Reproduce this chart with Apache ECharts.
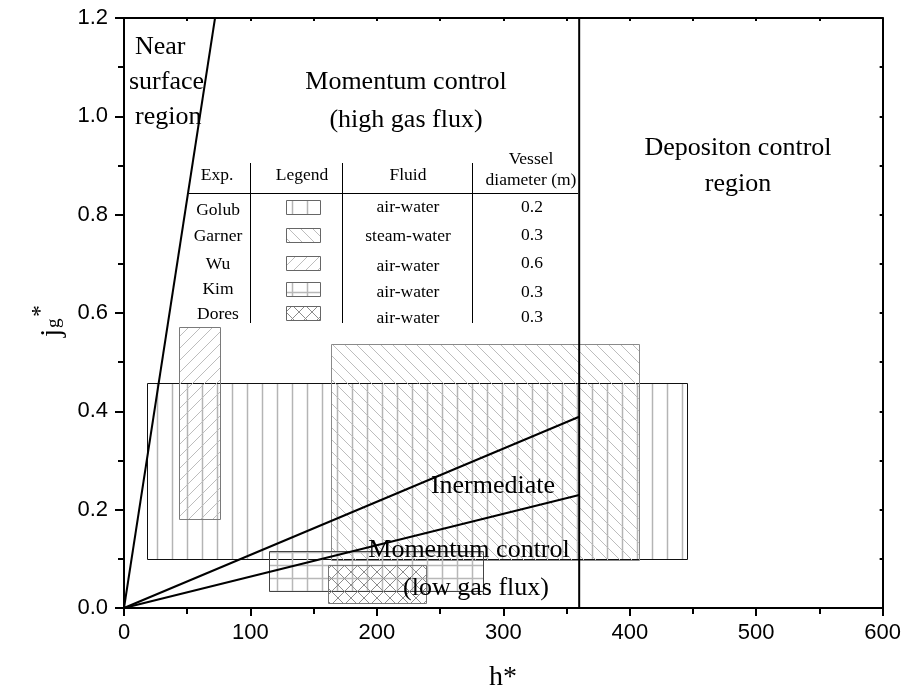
<!DOCTYPE html>
<html>
<head>
<meta charset="utf-8">
<script src="https://cdn.jsdelivr.net/npm/echarts@6/dist/echarts.min.js"></script>
<style>
  html, body { margin: 0; padding: 0; background: #fff; }
  #chart { width: 904px; height: 692px; }
</style>
</head>
<body>
<div id="chart"></div>
<script>
// Experiments and their operating ranges (h* range, jg* range)
const expNames = ['Golub', 'Garner', 'Wu', 'Kim', 'Dores'];
const fluids = ['air-water', 'steam-water', 'air-water', 'air-water', 'air-water'];
const diameters = ['0.2', '0.3', '0.6', '0.3', '0.3'];
const hRanges = [[18, 445], [164, 407], [43.5, 76], [115, 284], [161.5, 238.5]];
const jgRanges = [[0.10, 0.457], [0.097, 0.537], [0.182, 0.571], [0.035, 0.115], [0.011, 0.0875]];

// Regime boundary lines [h*, jg*]
const nearSurfaceLine = [[0, 0], [72, 1.2]];
const upperIntermediateLine = [[0, 0], [360, 0.389]];
const lowerIntermediateLine = [[0, 0], [360, 0.23]];
const depositionLine = [[360, 0], [360, 1.2]];

// Axis ticks
const xTicks = [0, 100, 200, 300, 400, 500, 600];
const yTicks = [0, 0.2, 0.4, 0.6, 0.8, 1.0, 1.2];

const SERIF = '"Liberation Serif", "Times New Roman", serif';
const SANS = '"Liberation Sans", Arial, sans-serif';

// Hatch tiles used as pattern fills
function tile(w, h, color, width, paint) {
  const c = document.createElement('canvas');
  c.width = w; c.height = h;
  const ctx = c.getContext('2d');
  ctx.strokeStyle = color;
  ctx.lineWidth = width;
  ctx.beginPath();
  paint(ctx, w, h);
  ctx.stroke();
  return c;
}
const tileVertical = tile(15, 15, '#b4b4b4', 1.5, (g, w, h) => { g.moveTo(7.5, 0); g.lineTo(7.5, h); });
const tileBack = tile(12, 12, '#bdbdbd', 1, (g, w, h) => {
  for (const k of [-w, 0, w]) { g.moveTo(k, 0); g.lineTo(k + w, h); }
});
const tileFwd = tile(12, 12, '#bdbdbd', 1, (g, w, h) => {
  for (const k of [-w, 0, w]) { g.moveTo(k + w, 0); g.lineTo(k, h); }
});
const tileGrid = tile(15, 13, '#b8b8b8', 1.5, (g, w, h) => {
  g.moveTo(7.5, 0); g.lineTo(7.5, h); g.moveTo(0, 6.5); g.lineTo(w, 6.5);
});
const tileCross = tile(13, 13, '#8c8c8c', 1, (g, w, h) => {
  for (const k of [-w, 0, w]) {
    g.moveTo(k, 0); g.lineTo(k + w, h);
    g.moveTo(k + w, 0); g.lineTo(k, h);
  }
});
const patterns = [tileVertical, tileBack, tileFwd, tileGrid, tileCross].map(img => ({ image: img, repeat: 'repeat' }));
const borders = ['#111', '#8a8a8a', '#7a7a7a', '#444', '#777'];

const rectData = expNames.map((n, i) => [hRanges[i][0], hRanges[i][1], jgRanges[i][0], jgRanges[i][1], i]);

function lineSeries(name, data) {
  return {
    name, type: 'line', data, showSymbol: false, symbol: 'none', silent: true,
    lineStyle: { color: '#000', width: 2 }, z: 5, animation: false
  };
}

// Table in the upper part of the plot
const tableGraphics = [];
const colX = [218, 303, 408, 532];
const rowY = [210, 236, 264, 289, 314];
const fluidY = [207, 236, 266, 292, 318];
const diamY = [207, 235, 263, 292, 317];
function txt(text, x, y, size, align) {
  return {
    type: 'text', x, y, silent: true, z: 20,
    style: { text, fill: '#000', font: size + 'px ' + SERIF, align: align || 'center', verticalAlign: 'middle' }
  };
}
tableGraphics.push(txt('Exp.', 217, 175, 17.5));
tableGraphics.push(txt('Legend', 302, 175, 17.5));
tableGraphics.push(txt('Fluid', 408, 175, 17.5));
tableGraphics.push(txt('Vessel', 531, 159, 17.5));
tableGraphics.push(txt('diameter (m)', 531, 180, 17.5));
expNames.forEach((n, i) => {
  tableGraphics.push(txt(n, colX[0], rowY[i], 17.5));
  tableGraphics.push(txt(fluids[i], colX[2], fluidY[i], 17.5));
  tableGraphics.push(txt(diameters[i], colX[3], diamY[i], 17.5));
  tableGraphics.push({
    type: 'rect', silent: true, z: 20,
    shape: { x: 286.5, y: [200.5, 228.5, 256.5, 282.5, 306.5][i], width: 34, height: 14 },
    style: { fill: patterns[i], stroke: '#666', lineWidth: 1 }
  });
});
tableGraphics.push({ type: 'line', silent: true, z: 20, shape: { x1: 189, y1: 193.5, x2: 578, y2: 193.5 }, style: { stroke: '#000', lineWidth: 1 } });
[250.5, 342.5, 472.5].forEach(x => {
  tableGraphics.push({ type: 'line', silent: true, z: 20, shape: { x1: x, y1: 163, x2: x, y2: 323 }, style: { stroke: '#000', lineWidth: 1 } });
});

// Region labels
const regionText = [
  txt('Near', 135, 47, 26, 'left'),
  txt('surface', 129, 82, 26, 'left'),
  txt('region', 135, 117, 26, 'left'),
  txt('Momentum control', 406, 82, 26),
  txt('(high gas flux)', 406, 120, 26),
  txt('Depositon control', 738, 148, 26),
  txt('region', 738, 184, 26),
  txt('Inermediate', 493, 486, 26),
  txt('Momentum control', 469, 550, 26),
  txt('(low gas flux)', 476, 588, 26)
];

// Axis titles
const axisTitles = [
  txt('h*', 503, 678, 28),
  { type: 'text', x: 37, y: 337, rotation: Math.PI / 2, silent: true, z: 20,
    style: { text: 'j', fill: '#000', font: '30px ' + SERIF, align: 'left', verticalAlign: 'alphabetic' } },
  { type: 'text', x: 45, y: 328, rotation: Math.PI / 2, silent: true, z: 20,
    style: { text: 'g', fill: '#000', font: '19px ' + SERIF, align: 'left', verticalAlign: 'alphabetic' } },
  { type: 'text', x: 29, y: 317, rotation: Math.PI / 2, silent: true, z: 20,
    style: { text: '*', fill: '#000', font: '24px ' + SERIF, align: 'left', verticalAlign: 'alphabetic' } }
];

const chart = echarts.init(document.getElementById('chart'), null, { renderer: 'canvas' });
chart.setOption({
  animation: false,
  backgroundColor: '#fff',
  grid: { left: 124, top: 18, right: 21, bottom: 84, containLabel: false },
  xAxis: [{
    type: 'value', min: xTicks[0], max: xTicks[xTicks.length - 1], interval: 100,
    axisLine: { show: true, onZero: false, lineStyle: { color: '#000', width: 2 } },
    axisTick: { show: true, length: 8, lineStyle: { color: '#000', width: 2 } },
    minorTick: { show: true, splitNumber: 2, length: 6, lineStyle: { color: '#000', width: 2 } },
    axisLabel: { color: '#000', fontFamily: SANS, fontSize: 22, margin: 14 },
    splitLine: { show: false }
  }, {
    type: 'value', position: 'top', min: 0, max: 600, interval: 100,
    axisLine: { show: true, onZero: false, lineStyle: { color: '#000', width: 2 } },
    axisTick: { show: true, inside: true, length: 3, lineStyle: { color: '#000', width: 2 } },
    minorTick: { show: true, splitNumber: 2, length: 3, lineStyle: { color: '#000', width: 2 } },
    axisLabel: { show: false }, splitLine: { show: false }
  }],
  yAxis: [{
    type: 'value', min: yTicks[0], max: yTicks[yTicks.length - 1], interval: 0.2,
    axisLine: { show: true, onZero: false, lineStyle: { color: '#000', width: 2 } },
    axisTick: { show: true, length: 9, lineStyle: { color: '#000', width: 2 } },
    minorTick: { show: true, splitNumber: 2, length: 6, lineStyle: { color: '#000', width: 2 } },
    axisLabel: { color: '#000', fontFamily: SANS, fontSize: 22, margin: 16, formatter: v => v.toFixed(1) },
    splitLine: { show: false }
  }, {
    type: 'value', position: 'right', min: 0, max: 1.2, interval: 0.2,
    axisLine: { show: true, onZero: false, lineStyle: { color: '#000', width: 2 } },
    axisTick: { show: true, inside: true, length: 3, lineStyle: { color: '#000', width: 2 } },
    minorTick: { show: true, splitNumber: 2, length: 3, lineStyle: { color: '#000', width: 2 } },
    axisLabel: { show: false }, splitLine: { show: false }
  }],
  series: [
    {
      type: 'custom', name: 'ranges', silent: true, z: 2,
      encode: { x: [0, 1], y: [2, 3] },
      data: rectData,
      renderItem: (params, api) => {
        const i = api.value(4);
        const a = api.coord([api.value(0), api.value(3)]);
        const b = api.coord([api.value(1), api.value(2)]);
        const x0 = Math.round(a[0]) + 0.5, y0 = Math.round(a[1]) + 0.5;
        const x1 = Math.round(b[0]) + 0.5, y1 = Math.round(b[1]) + 0.5;
        return {
          type: 'rect',
          shape: { x: x0, y: y0, width: x1 - x0, height: y1 - y0 },
          style: { fill: patterns[i], stroke: borders[i], lineWidth: 1 }
        };
      }
    },
    lineSeries('near surface', nearSurfaceLine),
    lineSeries('upper', upperIntermediateLine),
    lineSeries('lower', lowerIntermediateLine),
    lineSeries('deposition', depositionLine)
  ],
  graphic: tableGraphics.concat(regionText, axisTitles)
});
</script>
</body>
</html>
